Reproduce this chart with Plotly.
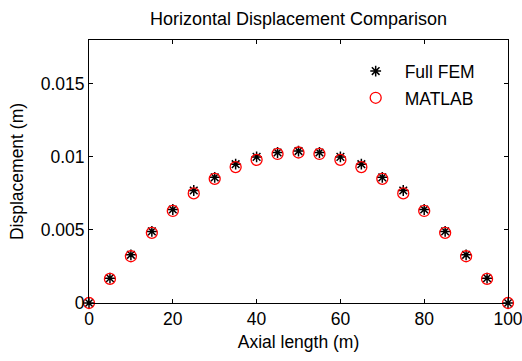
import plotly.graph_objects as go

x_len = [0, 5, 10, 15, 20, 25, 30, 35, 40, 45, 50, 55, 60, 65, 70, 75, 80, 85, 90, 95, 100]
fem = [0, 0.0017, 0.0033, 0.0049, 0.0064, 0.0077, 0.0086, 0.0095, 0.0100, 0.0103, 0.0104,
       0.0103, 0.0100, 0.0095, 0.0086, 0.0077, 0.0064, 0.0049, 0.0033, 0.0017, 0]
matlab = [0, 0.00165, 0.0032, 0.0048, 0.0063, 0.0075, 0.0085, 0.0093, 0.0098, 0.0102, 0.0103,
          0.0102, 0.0098, 0.0093, 0.0085, 0.0075, 0.0063, 0.0048, 0.0032, 0.00165, 0]
x_ticks = [0, 20, 40, 60, 80, 100]
y_ticks = [0, 0.005, 0.01, 0.015]
y_tick_labels = ["0", "0.005", "0.01", "0.015"]

FONT = "Liberation Sans"
FS = 17.5

fig = go.Figure()
fig.add_trace(go.Scatter(x=x_len, y=fem, mode="markers", name="Full FEM",
                         marker=dict(symbol="asterisk-open", size=9, color="black",
                                     line=dict(width=1.5, color="black")),
                         cliponaxis=False, legendgroup="a"))
fig.add_trace(go.Scatter(x=x_len, y=matlab, mode="markers", name="MATLAB",
                         marker=dict(symbol="circle-open", size=11, color="red",
                                     line=dict(width=1.3, color="red")),
                         cliponaxis=False, legendgroup="b"))

axis_common = dict(showline=True, linecolor="black", linewidth=1, mirror="ticks",
                   ticks="inside", ticklen=4, tickcolor="black", showgrid=False,
                   zeroline=False, automargin=False, ticklabeloverflow="allow",
                   tickfont=dict(family=FONT, size=FS, color="black"))

fig.update_layout(
    width=522, height=361,
    paper_bgcolor="white", plot_bgcolor="white",
    margin=dict(l=89, r=14, t=40, b=58),
    title=dict(text="Horizontal Displacement Comparison", xref="paper", x=0.5, xanchor="center",
               y=1 - 19 / 361, yanchor="middle",
               font=dict(family=FONT, size=18, color="black")),
    xaxis=dict(range=[0, 100], tickvals=x_ticks,
               title=dict(text="Axial length (m)", font=dict(family=FONT, size=FS, color="black"),
                          standoff=7),
               **axis_common),
    yaxis=dict(range=[0, 0.018], tickvals=y_ticks, ticktext=y_tick_labels,
               title=dict(text="Displacement (m)", font=dict(family=FONT, size=FS, color="black"),
                          standoff=12),
               **axis_common),
    legend=dict(x=0.615, y=0.95, xanchor="left", yanchor="top", bgcolor="rgba(0,0,0,0)",
                font=dict(family=FONT, size=FS, color="black"), itemwidth=48,
                tracegroupgap=1),
    showlegend=True,
)

fig.write_html("out.html")
